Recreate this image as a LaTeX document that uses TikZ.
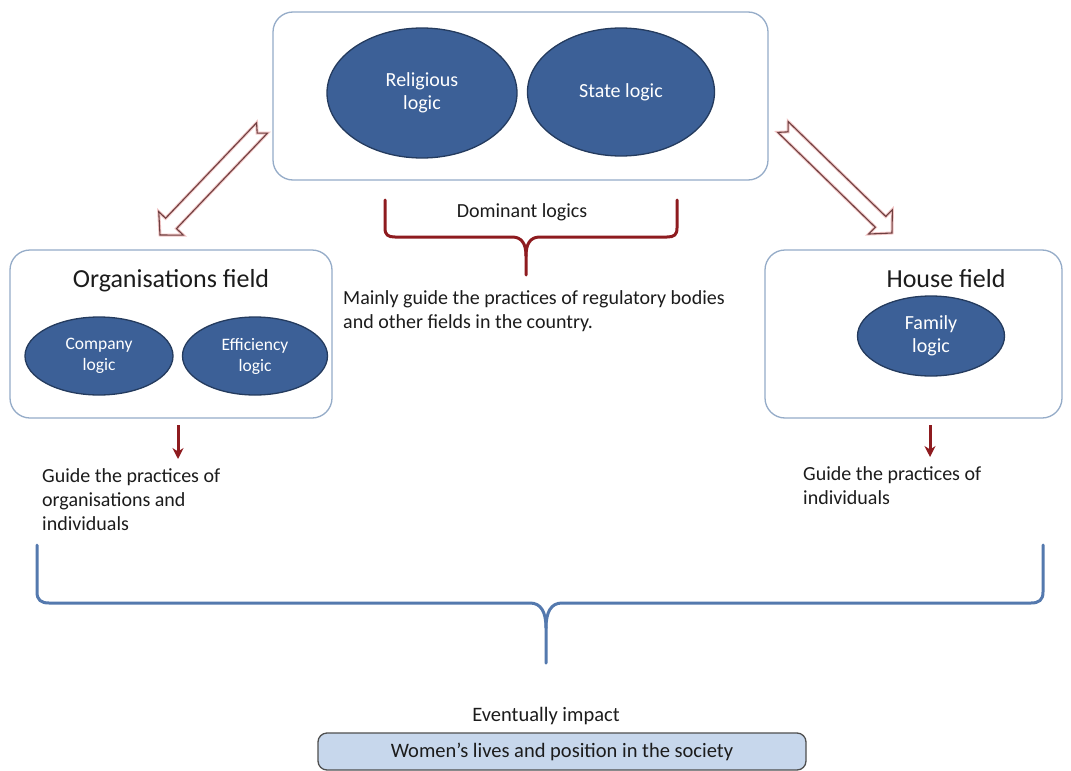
\documentclass[tikz,border=0pt]{standalone}
\usepackage{fontspec}
\setmainfont{Carlito}
\usetikzlibrary{calc,shapes.geometric,arrows.meta}

\definecolor{logicfill}{HTML}{3C6097}
\definecolor{logicedge}{HTML}{243B5E}
\definecolor{fieldedge}{HTML}{95ACC8}
\definecolor{bracered}{HTML}{8E1B1F}
\definecolor{arrowedge}{HTML}{6E3F40}
\definecolor{arrowhalo}{HTML}{F2C6C6}
\definecolor{braceblue}{HTML}{5479AE}
\definecolor{impactfill}{HTML}{C7D7EC}
\definecolor{impactedge}{HTML}{4F4F4F}
\definecolor{inktext}{HTML}{1C1C1C}

\newcommand\txtbody{\fontsize{20}{24}\selectfont}
\newcommand\txttitle{\fontsize{26}{30}\selectfont}
\newcommand\txtbig{\fontsize{20}{23}\selectfont}
\newcommand\txtsmall{\fontsize{17.5}{21}\selectfont}
\newcommand\txtimpact{\fontsize{20.5}{24}\selectfont}

\tikzset{
  fieldbox/.style={draw=fieldedge, line width=1.3pt, rounded corners=20pt, fill=white, inner sep=0pt},
  logic/.style={ellipse, draw=logicedge, line width=1.3pt, fill=logicfill, text=white,
                align=center, inner sep=0pt},
  label text/.style={text=inktext, inner sep=0pt},
  redbrace/.style={draw=bracered, line width=3pt, line cap=round},
  bluebrace/.style={draw=braceblue, line width=3pt, line cap=round},
  guidearrow/.style={draw=bracered, line width=3pt, -{Stealth[length=11pt,width=11pt]}},
  hollowhalo/.style={draw=arrowhalo, line width=3pt, line join=miter},
  hollowline/.style={draw=arrowedge, line width=1.1pt, line join=miter},
  impactbox/.style={draw=impactedge, line width=1.3pt, fill=impactfill, rounded corners=9pt,
                    text=inktext, inner sep=0pt},
}

% notched block arrow from #1 to #2
\newcommand\blockarrow[2]{%
  \coordinate (hb) at ($(#2)!16pt!(#1)$);
  \coordinate (nt) at ($(#1)!7pt!(#2)$);
  \coordinate (t1) at ($(#1)!7.5pt!90:(#2)$);
  \coordinate (t2) at ($(#1)!7.5pt!-90:(#2)$);
  \coordinate (s1) at ($(hb)!7.5pt!90:(#2)$);
  \coordinate (s2) at ($(hb)!7.5pt!-90:(#2)$);
  \coordinate (w1) at ($(hb)!17pt!90:(#2)$);
  \coordinate (w2) at ($(hb)!17pt!-90:(#2)$);
  \foreach \sty in {hollowhalo,hollowline}
    \draw[\sty] (t1) -- (s1) -- (w1) -- (#2) -- (w2) -- (s2) -- (t2) -- (nt) -- cycle;
}

\begin{document}
\begin{tikzpicture}[x=1pt,y=-1pt]
\useasboundingbox (0,0) rectangle (1071,771);
\fill[white] (0,0) rectangle (1071,771);

% dominant logics
\node[fieldbox, minimum width=495, minimum height=168] (dom) at (520.5,96) {};
\node[logic, font=\txtbig, minimum width=190, minimum height=130] (rel) at (422,93) {Religious\\logic};
\node[logic, font=\txtbig, minimum width=187, minimum height=128] (state) at (621,92) {State logic};

% organisations field
\node[fieldbox, minimum width=322, minimum height=168] (org) at (171,334) {};
\node[label text, font=\txttitle] (orgtitle) at (171,281) {Organisations field};
\node[logic, font=\txtsmall, minimum width=148, minimum height=78] (comp) at (99,356) {Company\\logic};
\node[logic, font=\txtsmall, minimum width=145, minimum height=78] (eff) at (255,356) {Efficiency\\logic};

% house field
\node[fieldbox, minimum width=297, minimum height=168] (house) at (913.5,334) {};
\node[label text, font=\txttitle] (housetitle) at (946,279) {House field};
\node[logic, font=\txtbig, minimum width=147, minimum height=80] (fam) at (931,336) {Family\\logic};

% block arrows from the dominant logics to both fields
\coordinate (la0) at (262,128);
\coordinate (la1) at (160,235);
\coordinate (ra0) at (783,127);
\coordinate (ra1) at (892,233);
\blockarrow{la0}{la1}
\blockarrow{ra0}{ra1}

% brace under the dominant logics
\node[label text, font=\txtbody] (domlbl) at (522,212) {Dominant logics};
\draw[redbrace] (385,200) -- (385,228) .. controls (385,235) and (388,237) .. (395,237)
  -- (512,237) .. controls (522,237) and (526,244) .. (526,256) -- (526,275);
\draw[redbrace] (677,200) -- (677,228) .. controls (677,235) and (674,237) .. (667,237)
  -- (540,237) .. controls (530,237) and (526,244) .. (526,256);
\node[label text, font=\txtbody, align=left, anchor=north west] (mainly) at (343,290)
  {Mainly guide the practices of regulatory bodies\\and other fields in the country.};

% guide arrows
\coordinate (lg0) at (178,425);
\coordinate (lg1) at (178,459);
\coordinate (rg0) at (930,425);
\coordinate (rg1) at (930,457);
\draw[guidearrow] (lg0) -- (lg1);
\draw[guidearrow] (rg0) -- (rg1);
\node[label text, font=\txtbody, align=left, anchor=north west] (lguide) at (42,468)
  {Guide the practices of\\organisations and\\individuals};
\node[label text, font=\txtbody, align=left, anchor=north west] (rguide) at (803,466)
  {Guide the practices of\\individuals};

% brace gathering both fields
\draw[bluebrace] (37,545) -- (37,592) .. controls (37,600) and (41,603) .. (49,603)
  -- (530,603) .. controls (541,603) and (546,612) .. (546,628) -- (546,663);
\draw[bluebrace] (1043,545) -- (1043,592) .. controls (1043,600) and (1039,603) .. (1031,603)
  -- (562,603) .. controls (551,603) and (546,612) .. (546,628);

% outcome
\node[label text, font=\txtimpact] (evt) at (546,716) {Eventually impact};
\node[impactbox, font=\txtimpact, minimum width=488, minimum height=37] (women) at (562,751.5)
  {Women’s lives and position in the society};
\end{tikzpicture}
\end{document}
